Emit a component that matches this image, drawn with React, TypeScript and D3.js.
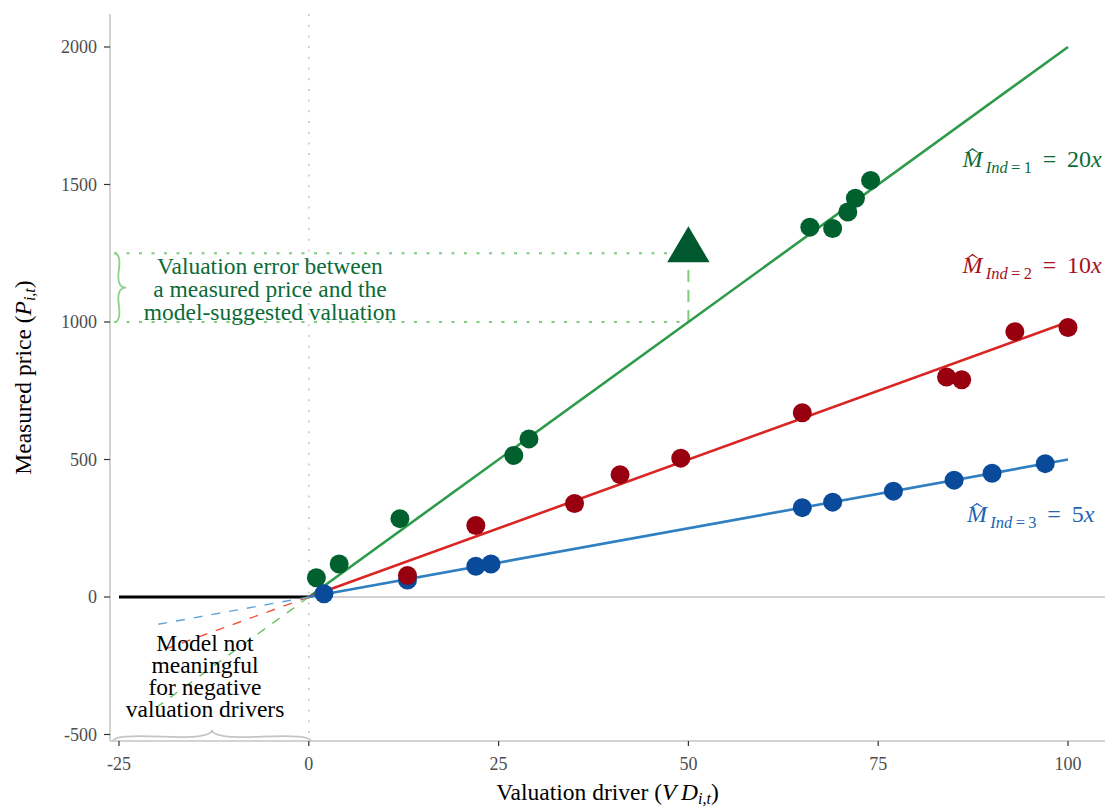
import React from 'react';
import * as d3 from 'd3';

const W = 1105;
const H = 809;

const xTicks = [-25, 0, 25, 50, 75, 100];
const yTicks = [-500, 0, 500, 1000, 1500, 2000];

const greenX = [1, 4, 12, 27, 29, 66, 69, 71, 72, 74];
const greenY = [70, 120, 285, 515, 575, 1345, 1340, 1400, 1450, 1515];
const redX = [13, 22, 35, 41, 49, 65, 84, 86, 93, 100];
const redY = [78, 260, 340, 445, 505, 670, 800, 790, 965, 980];
const blueX = [2, 13, 22, 24, 65, 69, 77, 85, 90, 97];
const blueY = [12, 62, 112, 120, 325, 345, 385, 425, 450, 485];

const multiples = [20, 10, 5];
const industries = ['1', '2', '3'];
const lineColors = ['#2e9b4a', '#d92624', '#2f7fc1'];
const dashColors = ['#6cc26a', '#f0553b', '#5fa6d9'];
const pointColors = ['#00612e', '#99000f', '#0a4a9b'];
const labelColors = ['#0b6b38', '#a8101e', '#2364b0'];
const labelX = [86.1, 86.1, 86.7];
const labelY = [1562, 1177, 272];

const negX = -20;
const triX = 50;
const triY = 1250;
const lineY = 1000;

function brace(x1: number, y1: number, x2: number, y2: number, w: number, q: number) {
  let dx = x1 - x2;
  let dy = y1 - y2;
  const len = Math.sqrt(dx * dx + dy * dy);
  dx /= len;
  dy /= len;
  const qx1 = x1 + q * w * dy;
  const qy1 = y1 - q * w * dx;
  const qx2 = x1 - 0.25 * len * dx + (1 - q) * w * dy;
  const qy2 = y1 - 0.25 * len * dy - (1 - q) * w * dx;
  const tx1 = x1 - 0.5 * len * dx + w * dy;
  const ty1 = y1 - 0.5 * len * dy - w * dx;
  const qx3 = x2 + q * w * dy;
  const qy3 = y2 - q * w * dx;
  const qx4 = x1 - 0.75 * len * dx + (1 - q) * w * dy;
  const qy4 = y1 - 0.75 * len * dy - (1 - q) * w * dx;
  return `M ${x1} ${y1} Q ${qx1} ${qy1} ${qx2} ${qy2} T ${tx1} ${ty1} M ${x2} ${y2} Q ${qx3} ${qy3} ${qx4} ${qy4} T ${tx1} ${ty1}`;
}

export default function App() {
  const x = d3.scaleLinear().domain([-25, 100]).range([119, 1068]);
  const y = d3.scaleLinear().domain([0, 2000]).range([597, 47]);
  const left = 110, right = 1105, top = 14, bottom = 741;
  const font = '"Liberation Serif", "Times New Roman", serif';

  const series = [
    { xs: greenX, ys: greenY },
    { xs: blueX, ys: blueY },
    { xs: redX, ys: redY },
  ];
  const seriesColor = [pointColors[0], pointColors[2], pointColors[1]];

  const line = d3.line<[number, number]>().x(d => x(d[0])).y(d => y(d[1]));
  const tri = d3.symbol().type(d3.symbolTriangle).size(780)();

  return (
    <svg width={W} height={H} style={{ display: 'block', position: 'absolute', left: 0, top: 0 }} fontFamily={font}>
      <rect width={W} height={H} fill="#fff" />
      {/* axis lines */}
      <line x1={left} x2={left} y1={top} y2={bottom} stroke="#c4c4c4" strokeWidth={1.5} />
      <line x1={left} x2={right} y1={bottom} y2={bottom} stroke="#c4c4c4" strokeWidth={1.5} />
      {/* reference lines */}
      <line x1={x(0)} x2={x(0)} y1={top} y2={bottom} stroke="#bdbdbd" strokeWidth={1.3} strokeDasharray="2,8.7" />
      <line x1={x(0)} x2={right} y1={y(0)} y2={y(0)} stroke="#c4c4c4" strokeWidth={1.5} />
      <line x1={x(-25)} x2={x(0)} y1={y(0)} y2={y(0)} stroke="#000" strokeWidth={3} />
      {/* ticks */}
      {xTicks.map(t => (
        <g key={'xt' + t}>
          <line x1={x(t)} x2={x(t)} y1={bottom} y2={bottom + 5} stroke="#333" strokeWidth={1.2} />
          <text x={x(t)} y={bottom + 29} textAnchor="middle" fontSize={18} fill="#4d4d4d">{t}</text>
        </g>
      ))}
      {yTicks.map(t => (
        <g key={'yt' + t}>
          <line x1={left - 6} x2={left} y1={y(t)} y2={y(t)} stroke="#333" strokeWidth={1.2} />
          <text x={left - 13} y={y(t)} dy="0.35em" textAnchor="end" fontSize={18} fill="#4d4d4d">{t}</text>
        </g>
      ))}
      {/* valuation error annotation */}
      <line x1={left + 4} x2={x(triX)} y1={y(triY)} y2={y(triY)} stroke="#7fcc7f" strokeWidth={2} strokeDasharray="3,9.5" />
      <line x1={left + 4} x2={x(triX)} y1={y(lineY)} y2={y(lineY)} stroke="#7fcc7f" strokeWidth={2} strokeDasharray="3,9.5" />
      <line x1={x(triX)} x2={x(triX)} y1={y(lineY)} y2={y(triY)} stroke="#7fcc7f" strokeWidth={2} strokeDasharray="12,8" />
      <path d={brace(left + 4, y(lineY), left + 4, y(triY), 12, 0.6)} fill="none" stroke="#8fd18a" strokeWidth={1.8} />
      <text x={270} textAnchor="middle" fontSize={23.5} fill="#0b6b38">
        <tspan x={270} y={274}>Valuation error between</tspan>
        <tspan x={270} y={297}>a measured price and the</tspan>
        <tspan x={270} y={320}>model-suggested valuation</tspan>
      </text>
      {/* negative dashed extensions */}
      {multiples.map((m, i) => (
        <path key={'neg' + i} d={line([[0, 0], [negX, negX * m]]) || ''} fill="none" stroke={dashColors[i]} strokeWidth={1.4} strokeDasharray="9,9" />
      ))}
      {/* fitted lines */}
      {multiples.map((m, i) => (
        <path key={'fit' + i} d={line([[0, 0], [100, 100 * m]]) || ''} fill="none" stroke={lineColors[i]} strokeWidth={2.6} />
      ))}
      {/* points */}
      {series.map((s, si) =>
        s.xs.map((xv, j) => (
          <circle key={'p' + si + '-' + j} cx={x(xv)} cy={y(s.ys[j])} r={9.5} fill={seriesColor[si]} />
        ))
      )}
      <path d={tri || ''} transform={`translate(${x(triX)},${y(triY) - 3}) scale(1.0,0.98)`} fill="#00592e" />
      {/* bottom annotation */}
      <text textAnchor="middle" fontSize={23.5} fill="#000">
        <tspan x={205} y={651}>Model not</tspan>
        <tspan x={205} y={673}>meaningful</tspan>
        <tspan x={205} y={695}>for negative</tspan>
        <tspan x={205} y={717}>valuation drivers</tspan>
      </text>
      <path d={brace(x(0) + 2, bottom, x(-25) - 6, bottom, 11, 0.6)} fill="none" stroke="#c4c4c4" strokeWidth={1.8} />
      {/* right labels */}
      {multiples.map((m, i) => {
        const xs = x(labelX[i]);
        const ys = y(labelY[i]);
        return (
          <g key={'lab' + i} fill={labelColors[i]}>
            <text x={xs} y={ys} fontSize={24} style={{ whiteSpace: 'pre' }}>
              <tspan fontStyle="italic">M</tspan>
              <tspan fontSize={16.5} dy={6} fontStyle="italic">{'\u2009Ind'}</tspan>
              <tspan fontSize={16.5}>{'\u2009=\u2009' + industries[i]}</tspan>
              <tspan dy={-6}>{'\u00a0\u2009=\u00a0\u2009' + m}</tspan>
              <tspan fontStyle="italic">x</tspan>
            </text>
            <path d={`M ${xs + 4} ${ys - 15} L ${xs + 10} ${ys - 19.5} L ${xs + 16} ${ys - 15} L ${xs + 14.6} ${ys - 15} L ${xs + 10} ${ys - 17.8} L ${xs + 5.4} ${ys - 15} Z`} />
          </g>
        );
      })}
      {/* axis titles */}
      <text x={(left + right) / 2} y={800} textAnchor="middle" fontSize={23.5} fill="#000">
        <tspan>Valuation driver (</tspan>
        <tspan fontStyle="italic">V</tspan>
        <tspan fontStyle="italic">{'\u2009D'}</tspan>
        <tspan fontSize={16} dy={4} fontStyle="italic">i,t</tspan>
        <tspan dy={-4}>)</tspan>
      </text>
      <text transform={`translate(31,${(top + bottom) / 2}) rotate(-90)`} textAnchor="middle" fontSize={23.5} fill="#000">
        <tspan>Measured price (</tspan>
        <tspan fontStyle="italic">P</tspan>
        <tspan fontSize={16} dy={4} fontStyle="italic">i,t</tspan>
        <tspan dy={-4}>)</tspan>
      </text>
    </svg>
  );
}
